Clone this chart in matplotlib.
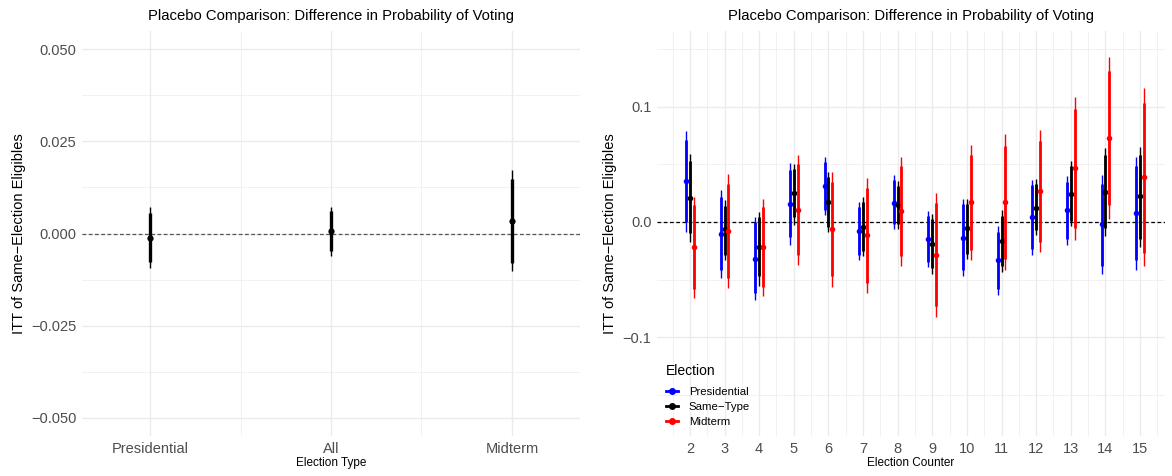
import numpy as np
import matplotlib.pyplot as plt
from matplotlib.lines import Line2D

plt.rcParams['font.family'] = ['Liberation Sans', 'DejaVu Sans']

# left panel: pooled placebo estimates
types = ['Presidential', 'All', 'Midterm']
pool_est = [-0.0012, 0.0006, 0.0035]
pool_lo95 = [-0.0093, -0.0060, -0.0102]
pool_hi95 = [0.0071, 0.0071, 0.0172]
pool_lo90 = [-0.0078, -0.0048, -0.0080]
pool_hi90 = [0.0056, 0.0060, 0.0148]

# right panel: by election counter
counter = list(range(2, 16))
series_names = ['Presidential', 'Same\u2212Type', 'Midterm']
series_colors = ['#0000FF', '#000000', '#FF0000']

pres_est = [0.0356, -0.0106, -0.0319, 0.0155, 0.031, -0.0078, 0.0166, -0.0149, -0.0135, -0.0334, 0.0046, 0.0103, -0.0017, 0.008]
pres_lo95 = [-0.0084, -0.0486, -0.0681, -0.0204, 0.006, -0.0334, -0.0063, -0.039, -0.0472, -0.0638, -0.0284, -0.0198, -0.0451, -0.0414]
pres_hi95 = [0.0787, 0.0282, 0.0046, 0.0511, 0.0563, 0.0175, 0.0405, 0.0097, 0.0196, -0.0034, 0.0368, 0.0397, 0.0405, 0.0569]
pres_lo90 = [0.0003, -0.042, -0.062, -0.0132, 0.0103, -0.0284, -0.0017, -0.0351, -0.0414, -0.0586, -0.0236, -0.0149, -0.0379, -0.0334]
pres_hi90 = [0.0713, 0.0213, 0.0003, 0.0448, 0.052, 0.0132, 0.0362, 0.0052, 0.0155, -0.0084, 0.0319, 0.0347, 0.0333, 0.0483]

same_est = [0.021, -0.0063, -0.0213, 0.0253, 0.0175, -0.004, 0.0147, -0.019, -0.0055, -0.0164, 0.0118, 0.0247, 0.0261, 0.0224]
same_lo95 = [-0.017, -0.0328, -0.0552, -0.0026, -0.0084, -0.0299, -0.0063, -0.0448, -0.0322, -0.0437, -0.0112, -0.0034, -0.0126, -0.0218]
same_hi95 = [0.0592, 0.019, 0.0089, 0.05, 0.0434, 0.0218, 0.0356, 0.0069, 0.0196, 0.0103, 0.0376, 0.0534, 0.0644, 0.0655]
same_lo90 = [-0.0097, -0.0284, -0.0471, 0.004, -0.004, -0.0256, -0.0017, -0.0399, -0.0276, -0.0385, -0.0069, 0.0011, -0.0054, -0.0147]
same_hi90 = [0.0526, 0.0138, 0.004, 0.0463, 0.039, 0.0175, 0.031, 0.0023, 0.0155, 0.0052, 0.0333, 0.0483, 0.0578, 0.0578]

mid_est = [-0.0213, -0.0075, -0.0213, 0.0103, -0.0063, -0.0112, 0.0097, -0.0284, 0.017, 0.0175, 0.027, 0.0471, 0.073, 0.039]
mid_lo95 = [-0.0658, -0.0572, -0.0644, -0.0371, -0.0563, -0.0615, -0.0379, -0.0822, -0.0334, -0.0414, -0.0264, -0.0155, 0.0023, -0.0385]
mid_hi95 = [0.0218, 0.0414, 0.0196, 0.0578, 0.0434, 0.0385, 0.0569, 0.0253, 0.0672, 0.0764, 0.0799, 0.1086, 0.1431, 0.1161]
mid_lo90 = [-0.0586, -0.0491, -0.0563, -0.0284, -0.0472, -0.0528, -0.0299, -0.073, -0.0247, -0.0322, -0.017, -0.0054, 0.0147, -0.027]
mid_hi90 = [0.0147, 0.0328, 0.0127, 0.05, 0.0347, 0.0299, 0.0491, 0.0161, 0.0586, 0.0664, 0.0707, 0.098, 0.131, 0.1037]

TITLE = 'Placebo Comparison: Difference in Probability of Voting'
YLAB = 'ITT of Same\u2212Election Eligibles'
GRID = '#EBEBEB'
TICK = '#4D4D4D'


def style(ax):
    for s in ax.spines.values():
        s.set_visible(False)
    ax.tick_params(length=0, labelsize=10.5, labelcolor=TICK, pad=4)
    ax.grid(which='major', color=GRID, lw=1.0)
    ax.grid(which='minor', color=GRID, lw=0.5)
    ax.set_axisbelow(True)


def pointrange(ax, x, est, lo95, hi95, lo90, hi90, color, thick=2.0, ms=4.0):
    ax.vlines(x, lo95, hi95, color=color, lw=1.0)
    ax.vlines(x, lo90, hi90, color=color, lw=thick)
    ax.plot(x, est, 'o', color=color, ms=ms, mec='none')


fig = plt.figure(figsize=(11.72, 4.76), dpi=100)

# ---- left panel
ax1 = fig.add_axes([82 / 1172, 40 / 476, 498 / 1172, 405 / 476])
style(ax1)
xl = np.arange(1, len(types) + 1)
ax1.axhline(0, color='#555555', ls=(0, (3, 2)), lw=0.9)
pointrange(ax1, xl, pool_est, pool_lo95, pool_hi95, pool_lo90, pool_hi90, 'black', thick=2.4, ms=4.5)
ax1.set_xlim(0.624, 3.376)
ax1.set_ylim(-0.055, 0.055)
ax1.set_xticks(xl)
ax1.set_xticklabels(types)
ax1.set_xticks([1.5, 2.5], minor=True)
ax1.set_yticks([-0.05, -0.025, 0, 0.025, 0.05])
ax1.set_yticklabels(['\u22120.050', '\u22120.025', '0.000', '0.025', '0.050'])
ax1.set_yticks([-0.0375, -0.0125, 0.0125, 0.0375], minor=True)
ax1.tick_params(which='minor', length=0)
ax1.set_title(TITLE, fontsize=10.7, pad=8)
ax1.set_ylabel(YLAB, fontsize=10.5, labelpad=4)
ax1.set_xlabel('Election Type', fontsize=8.5, labelpad=1)

# ---- right panel
ax2 = fig.add_axes([657 / 1172, 40 / 476, 508 / 1172, 405 / 476])
style(ax2)
ax2.axhline(0, color='black', ls=(0, (3, 2)), lw=0.9)
xc = np.array(counter, dtype=float)
groups = [
    (pres_est, pres_lo95, pres_hi95, pres_lo90, pres_hi90),
    (same_est, same_lo95, same_hi95, same_lo90, same_hi90),
    (mid_est, mid_lo95, mid_hi95, mid_lo90, mid_hi90),
]
offsets = [-0.11, 0.0, 0.11]
for (est, lo95, hi95, lo90, hi90), off, col in zip(groups, offsets, series_colors):
    pointrange(ax2, xc + off, est, lo95, hi95, lo90, hi90, col, thick=2.0, ms=4.0)
ax2.set_xlim(1.05, 15.72)
ax2.set_ylim(-0.186, 0.166)
ax2.set_xticks(counter)
ax2.set_xticks(np.arange(1.5, 16, 1.0), minor=True)
ax2.set_yticks([-0.1, 0.0, 0.1])
ax2.set_yticklabels(['\u22120.1', '0.0', '0.1'])
ax2.set_yticks([-0.15, -0.05, 0.05, 0.15], minor=True)
ax2.tick_params(which='minor', length=0)
ax2.set_title(TITLE, fontsize=10.7, pad=8)
ax2.set_ylabel(YLAB, fontsize=10.5, labelpad=4)
ax2.set_xlabel('Election Counter', fontsize=8.5, labelpad=1)

handles = [Line2D([], [], color=c, marker='o', ms=4.0, lw=2.0) for c in series_colors]
leg = ax2.legend(handles, series_names, loc='lower left', bbox_to_anchor=(0.0, 0.0),
                 title='Election', fontsize=8.2, title_fontsize=10, frameon=False,
                 handlelength=1.0, handletextpad=1.0, labelspacing=0.45,
                 borderaxespad=0.4)
leg._legend_box.align = 'left'
leg._legend_box.sep = 6

fig.savefig('out.png', dpi=100)
